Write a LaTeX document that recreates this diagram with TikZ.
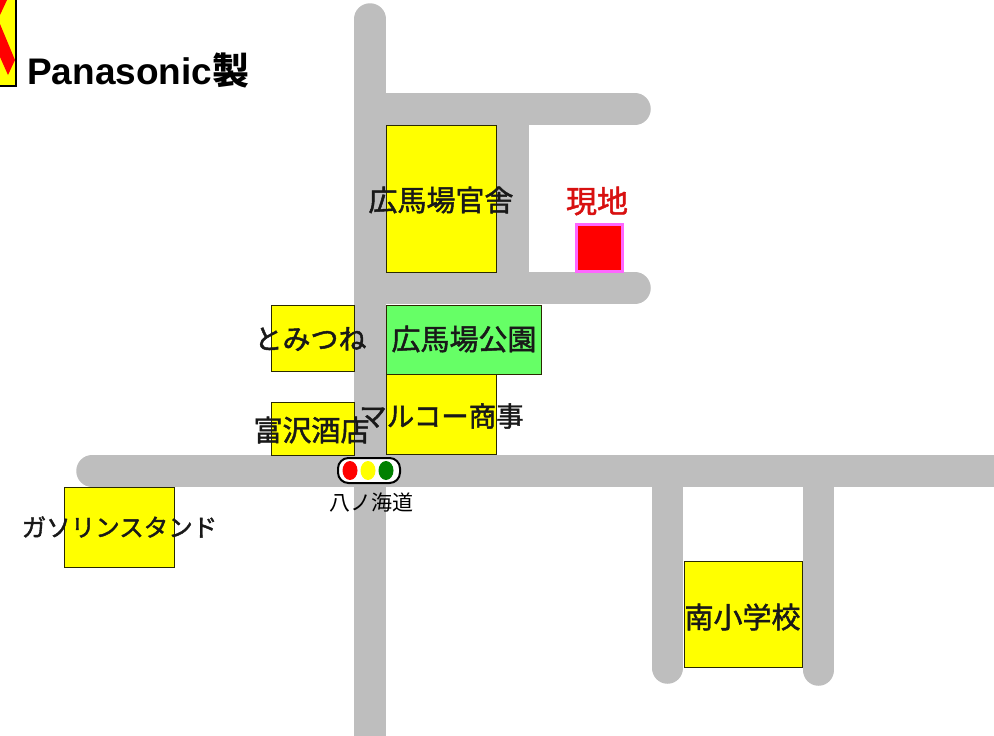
\documentclass[tikz,border=0pt]{standalone}
\usepackage{fontspec}
\setmainfont{Liberation Sans}
\newfontfamily\cjk{Noto Sans CJK JP}
\newfontfamily\cjkm[FakeBold=1.6]{Noto Sans CJK JP}
\definecolor{roadgray}{HTML}{BEBEBE}
\definecolor{parkgreen}{HTML}{66FF66}
\definecolor{pinkb}{HTML}{FF66FF}
\definecolor{sigred}{HTML}{FF0000}
\definecolor{sigyellow}{HTML}{FFFF00}
\definecolor{siggreen}{HTML}{008000}
\definecolor{labelred}{HTML}{D81010}
\definecolor{edgeb}{HTML}{2A2A00}
\tikzset{
 road/.style={line width=31.5pt,draw=roadgray,line cap=round},
 roadflat/.style={line width=31.5pt,draw=roadgray,line cap=butt},
 bld/.style={draw=edgeb,fill=sigyellow,line width=0.8pt},
 lbl/.style={font=\cjkm\fontsize{29}{29}\selectfont,text=black!90,inner sep=0pt},
}
\begin{document}
\begin{tikzpicture}[x=1pt,y=-1pt]
\useasboundingbox (0,0) rectangle (994,736);
\fill[white] (0,0) rectangle (994,736);
% roads
\begin{scope}
\clip (0,0) rectangle (994,736);
\draw[road] (370,19) -- (370,760);
\draw[road] (370,109) -- (635,109);
\draw[road] (370,288) -- (635,288);
\draw[roadflat] (513,109) -- (513,288);
\draw[road] (92,471) -- (1020,471);
\draw[road] (667.5,471) -- (667.5,668);
\draw[road] (818.5,471) -- (818.5,670);
% clipped icon
\draw[black,fill=sigyellow,line width=1.5pt] (-20,-10) rectangle (16,86);
\fill[sigred] (0,0) -- (7,0) -- (0,15) -- cycle;
\fill[sigred] (0,24) -- (15,60) -- (8,75) -- (0,57) -- cycle;
\end{scope}
\node[anchor=base west,inner sep=0pt,font=\bfseries\fontsize{37}{37}\selectfont] (pana) at (27,84) {Panasonic\cjk\bfseries 製};
% buildings
\path[bld] (386,125) rectangle (496,272);
\path[bld] (271,305) rectangle (354,371);
\path[bld,fill=parkgreen] (386,305) rectangle (541,374);
\path[bld] (386,374) rectangle (496,454);
\path[bld] (271,402) rectangle (354,455);
\path[bld] (64,487) rectangle (174,567);
\path[bld] (684,561) rectangle (802,667);
\path[draw=pinkb,fill=sigred,line width=3pt] (576,224) rectangle (622,271);
% labels
\node[lbl] (a) at (441,200) {広馬場官舎};
\node[lbl,font=\cjkm\fontsize{28}{28}\selectfont] (b) at (310.5,339) {とみつね};
\node[lbl] (c) at (464,339) {広馬場公園};
\node[lbl,font=\cjkm\fontsize{27.5}{27.5}\selectfont] (d) at (441.5,416) {マルコー商事};
\node[lbl] (e) at (311.5,430) {富沢酒店};
\node[lbl,font=\cjkm\fontsize{24.5}{24.5}\selectfont] (f) at (119.5,527) {ガソリンスタンド};
\node[lbl] (g) at (742.5,617) {南小学校};
\node[lbl,text=labelred,font=\cjkm\fontsize{31}{31}\selectfont] (h) at (597,201) {現地};
% signal
\draw[black,fill=white,line width=2pt,rounded corners=10.5pt] (338,458) rectangle (400,483);
\fill[sigred] (350,470.5) ellipse (7.5 and 9.5);
\fill[sigyellow] (368,470.5) ellipse (7.5 and 9.5);
\fill[siggreen] (386,470.5) ellipse (7.5 and 9.5);
\node[font=\cjk\fontsize{21}{21}\selectfont,inner sep=0pt] (s) at (371,503) {八ノ海道};
\end{tikzpicture}
\end{document}
